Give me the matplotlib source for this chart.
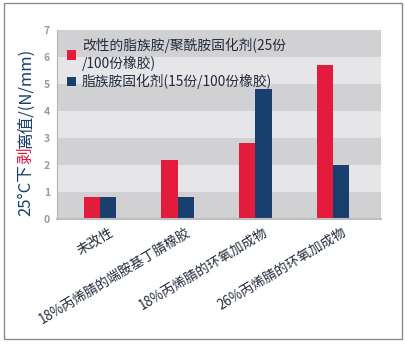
import numpy as np
import matplotlib
matplotlib.use("Agg")
import matplotlib.pyplot as plt
from matplotlib.patches import Rectangle
import matplotlib.transforms as mtransforms

plt.rcParams['font.family'] = ['Noto Sans CJK SC', 'DejaVu Sans']

categories = ['未改性', '18%丙烯腈的端胺基丁腈橡胶', '18%丙烯腈的环氧加成物', '26%丙烯腈的环氧加成物']
modified = [0.8, 2.2, 2.8, 5.7]
aliphatic = [0.8, 0.8, 4.8, 2.0]
series_names = ['改性的脂族胺/聚酰胺固化剂(25份\n/100份橡胶)', '脂族胺固化剂(15份/100份橡胶)']
yticks = [0, 1, 2, 3, 4, 5, 6, 7]

red = '#e31b3d'
navy = '#183f6d'
text_col = '#222a3c'

W, H = 406, 347
fig = plt.figure(figsize=(W / 100, H / 100), dpi=100)
ax = fig.add_axes([57 / W, (H - 219) / H, 324 / W, 189 / H])

# alternating horizontal bands
for i in range(7):
    ax.axhspan(i, i + 1, color='#d1d1d3' if i % 2 == 0 else '#e6e6e8', lw=0, zorder=0)

x = np.arange(len(categories))
w = 0.21
ax.bar(x - w / 2, modified, w, color=red, label=series_names[0], zorder=2)
ax.bar(x + w / 2, aliphatic, w, color=navy, label=series_names[1], zorder=2)

ax.set_xlim(-0.554, 3.618)
ax.set_ylim(0, 7)
ax.set_yticks(yticks)
ax.set_yticklabels([str(t) for t in yticks], color='#9a9a9a', fontsize=7.5, fontweight='bold')
ax.tick_params(axis='y', length=0, pad=5)
ax.set_xticks(x)
ax.set_xticklabels(categories, rotation=31, ha='right', va='top', rotation_mode='anchor',
                   fontsize=9.6, color=text_col)
ax.tick_params(axis='x', length=0, pad=4)
shift = mtransforms.ScaledTranslation(0.08, 0, fig.dpi_scale_trans)
for lbl in ax.get_xticklabels():
    lbl.set_transform(lbl.get_transform() + shift)

for s in ['top', 'right']:
    ax.spines[s].set_visible(False)
ax.spines['left'].set_color('#b5b5b5')
ax.spines['left'].set_linewidth(0.8)
ax.spines['bottom'].set_color('#bdbdbd')
ax.spines['bottom'].set_linewidth(1.5)

leg = ax.legend(loc='upper left', bbox_to_anchor=(0.0, 1.012), frameon=False, fontsize=9.9,
                handlelength=0.7, handleheight=0.7, handletextpad=0.4, labelspacing=0.2,
                borderaxespad=0.3)
for t in leg.get_texts():
    t.set_color(text_col)
    t.set_linespacing(1.3)

# y-axis title in pieces, the middle character in red
fig.canvas.draw()
renderer = fig.canvas.get_renderer()
parts = [('25°C下', navy), ('剥', red), ('离值/(N/mm)', navy)]
ypos = H - 216
for txt, col in parts:
    t = fig.text(26 / W, ypos / H, txt, rotation=90, ha='center', va='bottom',
                 fontsize=12, color=col)
    bb = t.get_window_extent(renderer)
    ypos = bb.y1

# outer frame
fig.patches.append(Rectangle((4 / W, 8 / H), 398 / W, 336 / H, transform=fig.transFigure,
                             fill=False, edgecolor='#8a8a8a', lw=1))

fig.savefig('out.png', dpi=100)
